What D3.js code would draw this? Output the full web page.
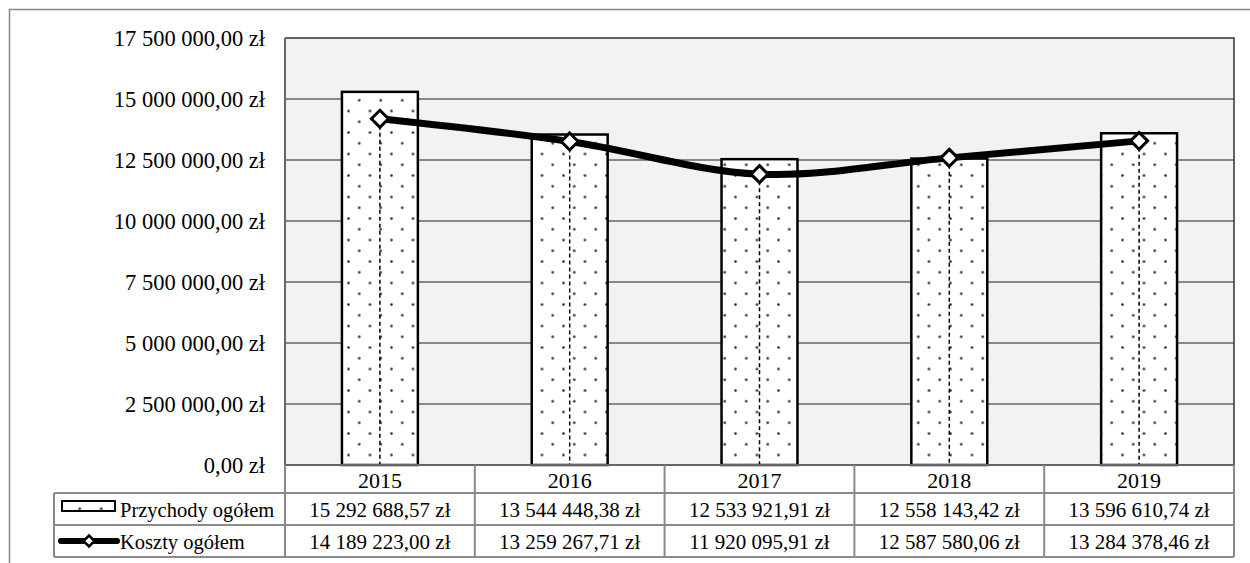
<!DOCTYPE html>
<html><head><meta charset="utf-8">
<script src="https://cdn.jsdelivr.net/npm/d3@7"></script>
<style>
html,body{margin:0;padding:0;background:#fff;}
svg{display:block;font-family:"Liberation Serif","Times New Roman",serif;}
</style></head>
<body>
<svg id="c" width="1250" height="563"></svg>
<script>
const years = ['2015','2016','2017','2018','2019'];
const przychody = [15292688.57, 13544448.38, 12533921.91, 12558143.42, 13596610.74];
const koszty = [14189223.00, 13259267.71, 11920095.91, 12587580.06, 13284378.46];
const yTicks = [0, 2500000, 5000000, 7500000, 10000000, 12500000, 15000000, 17500000];
const seriesNames = ['Przychody ogółem', 'Koszty ogółem'];

const loc = d3.formatLocale({decimal: ",", thousands: "\u00a0", grouping: [3], currency: ["", " zł"]});
const fmt = v => loc.format(",.2f")(v) + " zł";

const svg = d3.select('#c');
const L = 285, R = 1234, T = 38, B = 465;
const rows = [465, 493, 525, 557];
const tableLeft = 54;

const x = d3.scaleBand().domain(years).range([L, R]).paddingInner(0).paddingOuter(0);
const y = d3.scaleLinear().domain([0, 17500000]).range([B, T]);

// outer border
svg.append('rect').attr('x', 9.5).attr('y', 9.5).attr('width', 1300).attr('height', 600)
  .attr('fill', 'none').attr('stroke', '#868686').attr('stroke-width', 1.5);

// pattern
const defs = svg.append('defs');
const pat = defs.append('pattern').attr('id', 'dots').attr('patternUnits', 'userSpaceOnUse')
  .attr('width', 21.5).attr('height', 21.5).attr('x', 3).attr('y', 2);
pat.append('rect').attr('width', 21.5).attr('height', 21.5).attr('fill', '#fff');
pat.append('circle').attr('cx', 1.5).attr('cy', 1.5).attr('r', 1.35).attr('fill', '#333');
pat.append('circle').attr('cx', 12.25).attr('cy', 12.25).attr('r', 1.35).attr('fill', '#333');

// plot background
svg.append('rect').attr('x', L).attr('y', T).attr('width', R - L).attr('height', B - T).attr('fill', '#f2f2f2');

// gridlines
svg.append('g').selectAll('line').data(yTicks.filter(d => d > 0 && d < 17500000)).join('line')
  .attr('x1', L).attr('x2', R).attr('y1', d => y(d)).attr('y2', d => y(d))
  .attr('stroke', '#888').attr('stroke-width', 2);

// plot border top/right
svg.append('path').attr('d', `M${L},${T}H${R}V${B}`).attr('fill', 'none').attr('stroke', '#333').attr('stroke-width', 1.5);

// y axis labels
const yAxis = d3.axisLeft(y).tickValues(yTicks).tickFormat(fmt).tickSize(0).tickPadding(20);
const ya = svg.append('g').attr('transform', `translate(${L},0)`).call(yAxis);
ya.select('.domain').remove();
ya.selectAll('text').attr('font-size', 22.5).attr('fill', '#000').attr('font-family', '"Liberation Serif",serif');
svg.append('line').attr('x1', L).attr('x2', L).attr('y1', T).attr('y2', B).attr('stroke', '#666').attr('stroke-width', 2);

// bars
const bw = x.bandwidth() * 0.4;
svg.append('g').selectAll('rect').data(przychody).join('rect')
  .attr('x', (d, i) => x(years[i]) + (x.bandwidth() - bw) / 2)
  .attr('y', d => y(d)).attr('width', bw).attr('height', d => B - y(d))
  .attr('fill', 'url(#dots)').attr('stroke', '#000').attr('stroke-width', 2.5);

// drop lines
const cx = i => x(years[i]) + x.bandwidth() / 2;
svg.append('g').selectAll('line').data(koszty).join('line')
  .attr('x1', (d, i) => cx(i)).attr('x2', (d, i) => cx(i))
  .attr('y1', d => y(d)).attr('y2', B)
  .attr('stroke', '#000').attr('stroke-width', 1.5).attr('stroke-dasharray', '4,3');

// line
const line = d3.line().x((d, i) => cx(i)).y(d => y(d)).curve(d3.curveCardinal.tension(0));
svg.append('path').datum(koszty).attr('d', line).attr('fill', 'none')
  .attr('stroke', '#000').attr('stroke-width', 7).attr('stroke-linejoin', 'round');

const diamond = (px, py, s) => `M${px},${py - s}L${px + s},${py}L${px},${py + s}L${px - s},${py}Z`;
svg.append('g').selectAll('path').data(koszty).join('path')
  .attr('d', (d, i) => diamond(cx(i), y(d), 8.5))
  .attr('fill', '#fff').attr('stroke', '#000').attr('stroke-width', 3);

// table
const tg = svg.append('g');
const tStroke = '#8a8a8a';
tg.append('line').attr('x1', tableLeft).attr('x2', R).attr('y1', rows[1]).attr('y2', rows[1]).attr('stroke', tStroke).attr('stroke-width', 2);
tg.append('line').attr('x1', tableLeft).attr('x2', R).attr('y1', rows[2]).attr('y2', rows[2]).attr('stroke', tStroke).attr('stroke-width', 2);
tg.append('line').attr('x1', tableLeft).attr('x2', R).attr('y1', rows[3]).attr('y2', rows[3]).attr('stroke', tStroke).attr('stroke-width', 2);
tg.append('line').attr('x1', L).attr('x2', R).attr('y1', rows[0]).attr('y2', rows[0]).attr('stroke', '#666').attr('stroke-width', 2);
tg.append('line').attr('x1', tableLeft).attr('x2', tableLeft).attr('y1', rows[1]).attr('y2', rows[3]).attr('stroke', tStroke).attr('stroke-width', 2);
const colEdges = years.map(d => x(d)).concat([R]);
tg.selectAll('line.v').data(colEdges).join('line').attr('class', 'v')
  .attr('x1', d => d).attr('x2', d => d).attr('y1', rows[0]).attr('y2', rows[3])
  .attr('stroke', tStroke).attr('stroke-width', 2);

// year labels
tg.selectAll('text.yr').data(years).join('text').attr('class', 'yr')
  .attr('x', d => x(d) + x.bandwidth() / 2).attr('y', (rows[0] + rows[1]) / 2 + 1)
  .attr('text-anchor', 'middle').attr('dominant-baseline', 'central')
  .attr('font-size', 22).text(d => d);

// values
[przychody, koszty].forEach((arr, r) => {
  tg.selectAll('text.v' + r).data(arr).join('text').attr('class', 'v' + r)
    .attr('x', (d, i) => x(years[i]) + x.bandwidth() / 2).attr('y', (rows[r + 1] + rows[r + 2]) / 2 + 1)
    .attr('text-anchor', 'middle').attr('dominant-baseline', 'central')
    .attr('font-size', 21).text(d => fmt(d));
  tg.append('text').attr('x', 120).attr('y', (rows[r + 1] + rows[r + 2]) / 2 + 1)
    .attr('dominant-baseline', 'central').attr('font-size', 20.5).text(seriesNames[r]);
});

// legend keys
const k1y = (rows[1] + rows[2]) / 2 - 3;
tg.append('rect').attr('x', 62).attr('y', k1y - 5).attr('width', 53).attr('height', 10)
  .attr('fill', 'url(#dots)').attr('stroke', '#000').attr('stroke-width', 2);
const k2y = (rows[2] + rows[3]) / 2;
tg.append('line').attr('x1', 61).attr('x2', 117).attr('y1', k2y).attr('y2', k2y)
  .attr('stroke', '#000').attr('stroke-width', 6).attr('stroke-linecap', 'round');
tg.append('path').attr('d', diamond(89, k2y, 5.5)).attr('fill', '#fff').attr('stroke', '#000').attr('stroke-width', 2.5);
</script>
</body></html>
